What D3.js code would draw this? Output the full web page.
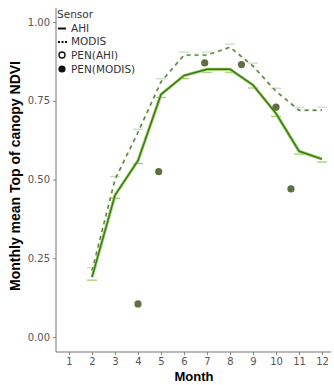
<!doctype html>
<html>
<head>
<script src="https://d3js.org/d3.v7.min.js"></script>
<style>
  body { margin: 0; background: #fff; }
  text { font-family: "DejaVu Sans", sans-serif; }
</style>
</head>
<body>
<script>
// data
var months = [1,2,3,4,5,6,7,8,9,10,11,12];
var ahiMonths = [2,3,4,5,6,7,8,9,10,11,12];
var ahiValues = [0.19,0.45,0.56,0.77,0.83,0.85,0.85,0.80,0.71,0.59,0.565];
var modisMonths = [2,3,4,5,6,7,8,9,10,11,12];
var modisValues = [0.21,0.50,0.65,0.81,0.895,0.895,0.92,0.86,0.78,0.72,0.72];
var penModisMonths = [4,4.9,6.9,8.5,10,10.65];
var penModisValues = [0.105,0.525,0.87,0.865,0.73,0.47];
var yTicks = [0,0.25,0.5,0.75,1];
var legendLabels = ["AHI","MODIS","PEN(AHI)","PEN(MODIS)"];

var svg = d3.select("body").append("svg")
    .attr("width",334).attr("height",385);

var x = d3.scaleLinear().domain([1,12]).range([69,322]);
var y = d3.scaleLinear().domain([0,1]).range([337,22]);

// axes
var xAxis = svg.append("g").attr("transform","translate(0,352)")
    .call(d3.axisBottom(x).tickValues(months).tickSize(3).tickSizeOuter(0));
xAxis.select(".domain").remove();
xAxis.selectAll("text").attr("fill","#555").style("font-size","10px");
xAxis.selectAll("line").attr("stroke","#888");

var yAxis = svg.append("g").attr("transform","translate(56,0)")
    .call(d3.axisLeft(y).tickValues(yTicks).tickFormat(d3.format(".2f")).tickSize(3));
yAxis.select(".domain").remove();
yAxis.selectAll("text").attr("fill","#555").style("font-size","10px");
yAxis.selectAll("line").attr("stroke","#888");

svg.append("line").attr("x1",56).attr("x2",56).attr("y1",8).attr("y2",352)
    .attr("stroke","#777");
svg.append("line").attr("x1",56).attr("x2",331).attr("y1",352).attr("y2",352)
    .attr("stroke","#777");

// titles
svg.append("text").attr("x",194).attr("y",381).attr("text-anchor","middle")
    .style("font-size","13px").style("font-weight","bold")
    .style("font-family","Liberation Sans, sans-serif").text("Month");
svg.append("text").attr("transform","translate(20,176) rotate(-90)")
    .attr("text-anchor","middle")
    .style("font-size","14px").style("font-weight","bold")
    .style("font-family","Liberation Sans, sans-serif")
    .text("Monthly mean Top of canopy NDVI");

// error bars (small marks around each line point)
var errs = svg.append("g");
ahiMonths.forEach(function(m,i){
    errs.append("line").attr("x1",x(m)-5).attr("x2",x(m)+5)
        .attr("y1",y(ahiValues[i])+3).attr("y2",y(ahiValues[i])+3)
        .attr("stroke","#9acd6a").attr("stroke-width",1.2);
});
modisMonths.forEach(function(m,i){
    errs.append("line").attr("x1",x(m)-5).attr("x2",x(m)+5)
        .attr("y1",y(modisValues[i])-3).attr("y2",y(modisValues[i])-3)
        .attr("stroke","#c4dbc8").attr("stroke-width",1.2);
});

var line = d3.line().x(function(d){return x(d[0]);}).y(function(d){return y(d[1]);});

// MODIS dashed
var modisData = modisMonths.map(function(m,i){return [m,modisValues[i]];});
svg.append("path").datum(modisData).attr("d",line).attr("fill","none")
    .attr("stroke","#b8e08a").attr("stroke-width",2.5).attr("stroke-dasharray","4,4").attr("opacity",0.7);
svg.append("path").datum(modisData).attr("d",line).attr("fill","none")
    .attr("stroke","#5f7f55").attr("stroke-width",1.4).attr("stroke-dasharray","4,4");

// AHI solid
var ahiData = ahiMonths.map(function(m,i){return [m,ahiValues[i]];});
svg.append("path").datum(ahiData).attr("d",line).attr("fill","none")
    .attr("stroke","#8fd14f").attr("stroke-width",3);
svg.append("path").datum(ahiData).attr("d",line).attr("fill","none")
    .attr("stroke","#3f6b2a").attr("stroke-width",1.3);

// PEN(MODIS) points
svg.selectAll("circle.pen").data(penModisMonths).enter().append("circle")
    .attr("class","pen")
    .attr("cx",function(d){return x(d);})
    .attr("cy",function(d,i){return y(penModisValues[i]);})
    .attr("r",3.6).attr("fill","#5e7040");

// legend
var lg = svg.append("g").attr("transform","translate(57,0)");
lg.append("text").attr("x",0).attr("y",18).style("font-size","10.5px").attr("fill","#333").text("Sensor");
var ly = [32,45,59,73];
lg.append("line").attr("x1",1).attr("x2",9).attr("y1",ly[0]-3.5).attr("y2",ly[0]-3.5).attr("stroke","#111").attr("stroke-width",2);
lg.append("line").attr("x1",1).attr("x2",10).attr("y1",ly[1]-3).attr("y2",ly[1]-3).attr("stroke","#111").attr("stroke-width",2).attr("stroke-dasharray","2,1.5");
lg.append("circle").attr("cx",5).attr("cy",ly[2]-4).attr("r",3).attr("fill","none").attr("stroke","#111").attr("stroke-width",1.4);
lg.append("circle").attr("cx",5).attr("cy",ly[3]-4).attr("r",3.6).attr("fill","#111");
legendLabels.forEach(function(l,i){
    lg.append("text").attr("x",14).attr("y",ly[i]).style("font-size","10.5px").attr("fill","#333").text(l);
});
</script>
</body>
</html>
